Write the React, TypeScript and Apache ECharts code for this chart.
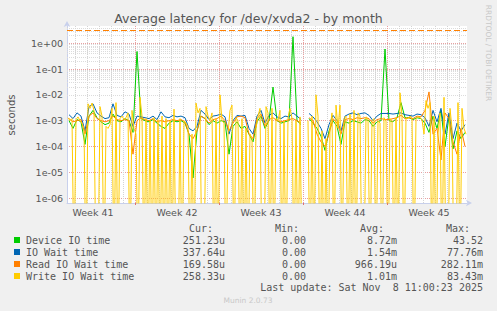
import React, { useEffect, useRef } from 'react';
import * as echarts from 'echarts';

// ---- data (milliseconds; 0 = zero latency, null = no data) ----
const weekLabels = ['Week 41', 'Week 42', 'Week 43', 'Week 44', 'Week 45'];
const legendNames = ['Device IO time', 'IO Wait time', 'Read IO Wait time', 'Write IO Wait time'];
const seriesColors = ['#00CC00', '#0066B3', '#FF8000', '#FFCC00'];
const curVals = ['251.23u', '337.64u', '169.58u', '258.33u'];
const minVals = ['0.00', '0.00', '0.00', '0.00'];
const avgVals = ['8.72m', '1.54m', '966.19u', '1.01m'];
const maxVals = ['43.52', '77.76m', '282.11m', '83.43m'];
const lastUpdate = 'Last update: Sat Nov  8 11:00:23 2025';

// hours since Monday of week 41; view = 800 h (one sample group every 8 h / 4 h)
const viewStart = 32;
const viewEnd = 832;
const coarseStart = 36; const coarseStep = 8;
const fineStart = 34; const fineStep = 4;

const deviceMs = [1.0,0.5,1.1,0.9,0.12,1.5,2.5,1.3,0.9,0.7,
 0.8,1.8,1.0,0.9,1.2,1.0,0.35,480,1.2,1.0,
 0.9,1.1,0.8,0.6,0.5,0.8,1.0,0.9,1.0,0.8,
 0.3,0.006,0.4,1.5,1.2,0.7,1.0,0.8,1.0,0.9,
 0.05,0.6,0.9,0.5,0.6,0.3,0.15,0.9,1.5,0.5,
 1.0,20,1.0,0.8,0.9,1.0,1800,1.0,0.7,null,
 1.2,0.8,0.5,0.25,0.07,0.4,1.0,0.6,0.12,0.9,
 0.8,1.0,0.9,0.8,1.1,1.0,0.6,0.9,1.0,600,
 1.0,0.9,1.3,5,1.3,1.3,1.1,1.3,1.2,0.8,
 0.35,1.5,0.5,2.5,0.1,1.5,0.08,0.4,0.2,0.35];

const ioWaitMs = [1.7,1.2,2.0,1.5,0.4,3.5,4.5,2.0,1.5,1.2,
 1.3,4.5,1.6,1.4,2.2,1.8,0.6,1.5,1.4,1.3,
 1.2,1.5,1.1,2.2,1.4,1.3,1.6,1.4,1.5,1.3,
 0.5,0.4,0.6,2.5,1.8,1.1,1.5,1.6,1.8,1.4,
 0.3,1.0,1.6,1.5,1.6,0.5,0.3,1.5,2.5,0.8,
 1.6,2.0,1.4,1.2,1.5,1.4,2.0,1.5,1.1,null,
 1.9,1.4,0.9,0.5,0.2,0.7,1.6,1.0,0.4,1.5,
 1.8,2.0,1.7,1.9,2.0,1.6,1.0,1.5,1.9,1.9,
 1.9,1.8,1.9,2.0,1.7,1.6,1.5,1.8,1.7,1.3,
 0.6,2.5,0.9,3.0,0.3,2.0,0.2,0.8,0.4,0.7];

const readMs = [1.2,0.9,1.0,1.1,0.3,1.5,2.0,1.2,1.0,0.9,
 1.0,1.5,1.1,1.0,1.1,1.0,0.05,1.0,1.3,1.1,
 1.0,1.2,0.9,1.0,0.9,1.0,1.1,1.0,1.1,0.9,
 0.3,0.2,0.4,1.5,1.2,0.8,1.1,1.2,1.5,1.0,
 0.4,0.8,1.4,1.5,1.3,0.3,0.2,1.2,1.8,0.6,
 1.1,1.3,1.0,0.9,1.0,1.1,1.2,1.0,0.8,null,
 1.3,1.0,0.3,0.15,0.1,0.3,1.2,0.8,0.3,1.1,
 1.2,1.1,1.3,1.2,1.3,1.2,0.8,1.1,1.2,1.1,
 1.1,1.2,1.3,1.6,1.2,1.3,1.2,1.5,1.4,2.5,
 13,0.3,0.5,0.03,2.0,1.2,0.15,0.05,0.5,0.1];

const writeMs = [1.3,1.0,1.2,0,1.1,1.4,1.0,0.8,0.5,0,
 4.5,3.0,4.8,2.5,0,0,3.5,1.5,0,0.6,
 0.5,0.7,3.0,0,5.0,0,1.2,1.5,1.1,1.3,
 2.0,0,2.5,0.5,0.3,0,8.0,1.5,0,1.2,
 0,1.0,0,1.3,0,1.1,0,1.5,0,1.2,
 0,1.0,0,2.8,0,0,1.2,0,1.0,0.8,
 0.6,0,0.3,0,4.8,2.0,3.0,0,0,3.5,
 1.5,1.0,2.0,0,1.2,0,10,1.0,0.8,0,
 0.3,2.5,4.0,0,1.3,1.0,0,1.2,0,0.5,
 0,0.3,0.2,0,0.5,1.5,3.0,0,0,3.5,
 2.0,0,3.0,0,1.2,1.0,2.5,0,1.0,0,
 1.3,3.0,1.2,0,1.0,0,1.4,0,null,null,
 1.0,0,1.5,0,10,1.5,0,0.4,0,0.2,
 0,0.5,2.0,0,4.0,0.5,4.0,0,1.2,1.5,
 0,1.8,0,2.5,0,2.0,1.5,0,0,1.4,
 1.2,0,1.0,1.2,0,1.0,0.8,0,1.3,1.0,
 0,1.2,1.0,0,1.3,0,12,1.5,0,1.3,
 1.2,1.5,1.3,0,1.2,1.4,1.3,1.1,0.3,6.0,
 3.0,5.0,0,1.5,0,0.3,2.0,0,8.0,0,
 0,3.0,0.5,0,0,5.0,0,3.0,0.5,0.3];

// ---- helpers ----
const toPoints = (vals: (number | null)[], start: number, step: number) =>
  vals.map((v, i) => [start + step * i, v === null ? null : v === 0 ? 1e-9 : v / 1000]);

const yMin = 6.4e-7;
const yMax = 4.68;

const fmtExp = (v: number) => {
  const e = Math.round(Math.log10(v));
  if (Math.abs(Math.log10(v) - e) > 1e-6) return '';
  return '1e' + (e < 0 ? '-' : '+') + String(Math.abs(e)).padStart(2, '0');
};

export default function App() {
  const ref = useRef<HTMLDivElement>(null);
  useEffect(() => {
    if (!ref.current) return;
    const chart = echarts.init(ref.current, undefined, { renderer: 'svg' });

    const weekBounds = [168, 336, 504, 672];
    const weekCenters = weekLabels.map((_, i) => 84 + 168 * i);
    const dayLines: any[] = [];
    for (let t = 48; t < viewEnd; t += 24) {
      const isWeek = t % 168 === 0;
      dayLines.push({ xAxis: t, lineStyle: { color: isWeek ? '#e8a0a0' : '#d4d4d4', type: [1, 1], width: 1 } });
    }
    const minorLines: any[] = [];
    for (let k = -7; k <= 0; k++) {
      for (let m = 2; m <= 9; m++) {
        const v = m * Math.pow(10, k);
        if (v > yMin && v < yMax) minorLines.push({ yAxis: v, lineStyle: { color: '#dcdcdc', type: [1, 1], width: 1 } });
      }
    }

    const mono = 'DejaVu Sans Mono';
    const txt = '#555555';
    const graphics: any[] = [];
    graphics.push({ type: 'text', left: 'center', top: 12, style: { text: 'Average latency for /dev/xvda2 - by month', font: '12.5px DejaVu Sans', fill: txt } });
    graphics.push({ type: 'text', x: 11, y: 115, rotation: Math.PI / 2, style: { text: 'seconds', font: '10px DejaVu Sans', fill: txt, align: 'center', verticalAlign: 'middle' } });
    graphics.push({ type: 'text', x: 488, y: 53, rotation: -Math.PI / 2, style: { text: 'RRDTOOL / TOBI OETIKER', font: '7.5px DejaVu Sans', fill: '#c8c8c8', align: 'center', verticalAlign: 'middle' } });
    const headers = [['Cur:', 213], ['Min:', 299], ['Avg:', 384], ['Max:', 470]] as const;
    headers.forEach(([h, x]) => graphics.push({ type: 'text', x, y: 228.5, style: { text: h, font: `10px ${mono}`, fill: txt, align: 'right', verticalAlign: 'middle' } }));
    legendNames.forEach((name, i) => {
      const y = 240 + 12 * i;
      graphics.push({ type: 'rect', shape: { x: 14, y: y - 3, width: 6, height: 6 }, style: { fill: seriesColors[i] } });
      graphics.push({ type: 'text', x: 26, y, style: { text: name, font: `10px ${mono}`, fill: txt, align: 'left', verticalAlign: 'middle' } });
      [[curVals[i], 225], [minVals[i], 306], [avgVals[i], 397], [maxVals[i], 483]].forEach(([s, x]) =>
        graphics.push({ type: 'text', x, y, style: { text: s, font: `10px ${mono}`, fill: txt, align: 'right', verticalAlign: 'middle' } }));
    });
    graphics.push({ type: 'text', x: 483, y: 287.5, style: { text: lastUpdate, font: `10px ${mono}`, fill: txt, align: 'right', verticalAlign: 'middle' } });
    graphics.push({ type: 'text', x: 248, y: 300.5, style: { text: 'Munin 2.0.73', font: '7.5px DejaVu Sans', fill: '#c8c8c8', align: 'center', verticalAlign: 'middle' } });

    const dataSeries = [
      { vals: deviceMs, start: coarseStart, step: coarseStep },
      { vals: ioWaitMs, start: coarseStart, step: coarseStep },
      { vals: readMs, start: coarseStart, step: coarseStep },
      { vals: writeMs, start: fineStart, step: fineStep },
    ].map((s, i) => ({
      type: 'line',
      name: legendNames[i],
      data: toPoints(s.vals, s.start, s.step),
      showSymbol: false,
      symbol: 'none',
      clip: true,
      connectNulls: false,
      z: 3 + i,
      lineStyle: { color: seriesColors[i], width: 1 },
      itemStyle: { color: seriesColors[i] },
    }));

    chart.setOption({
      animation: false,
      backgroundColor: '#F0F0F0',
      grid: { left: 67, top: 26, width: 400, height: 177, show: true, backgroundColor: '#ffffff', borderWidth: 0 },
      graphic: graphics,
      xAxis: {
        type: 'value', min: viewStart, max: viewEnd,
        axisLine: { show: true, onZero: false, lineStyle: { color: '#c8d0ec', width: 1 }, symbol: ['none', 'arrow'], symbolSize: [5, 6], symbolOffset: [0, 5] },
        axisTick: { show: true, customValues: weekBounds, length: 2, lineStyle: { color: '#e07070' } },
        axisLabel: {
          customValues: weekCenters,
          formatter: (v: number) => weekLabels[Math.round((v - 84) / 168)] ?? '',
          fontFamily: 'DejaVu Sans', fontSize: 9.5, color: txt, margin: 4,
        },
        splitLine: { show: false },
      },
      yAxis: {
        type: 'log', logBase: 10, min: yMin, max: yMax, splitNumber: 7,
        axisLine: { show: true, onZero: false, lineStyle: { color: '#c8d0ec', width: 1 }, symbol: ['none', 'arrow'], symbolSize: [5, 6], symbolOffset: [0, 5] },
        axisTick: { show: false },
        axisLabel: { formatter: (v: number) => fmtExp(v), fontFamily: 'DejaVu Sans', fontSize: 9.5, color: txt, margin: 4 },
        splitLine: { show: true, showMinLine: false, showMaxLine: false, lineStyle: { color: '#e8a0a0', type: [1, 1], width: 1 } },
      },
      series: [
        {
          type: 'line', data: [], z: 1, silent: true,
          markLine: {
            silent: true, symbol: ['none', 'none'], label: { show: false }, z: 1, animation: false,
            data: [...minorLines, ...dayLines, { yAxis: 3.2, lineStyle: { color: '#FF8000', type: [6, 3], width: 1 } }],
          },
        },
        ...dataSeries,
      ],
    });
    return () => chart.dispose();
  }, []);
  return <div ref={ref} style={{ position: 'fixed', left: 0, top: 0, width: 497, height: 311 }} />;
}
